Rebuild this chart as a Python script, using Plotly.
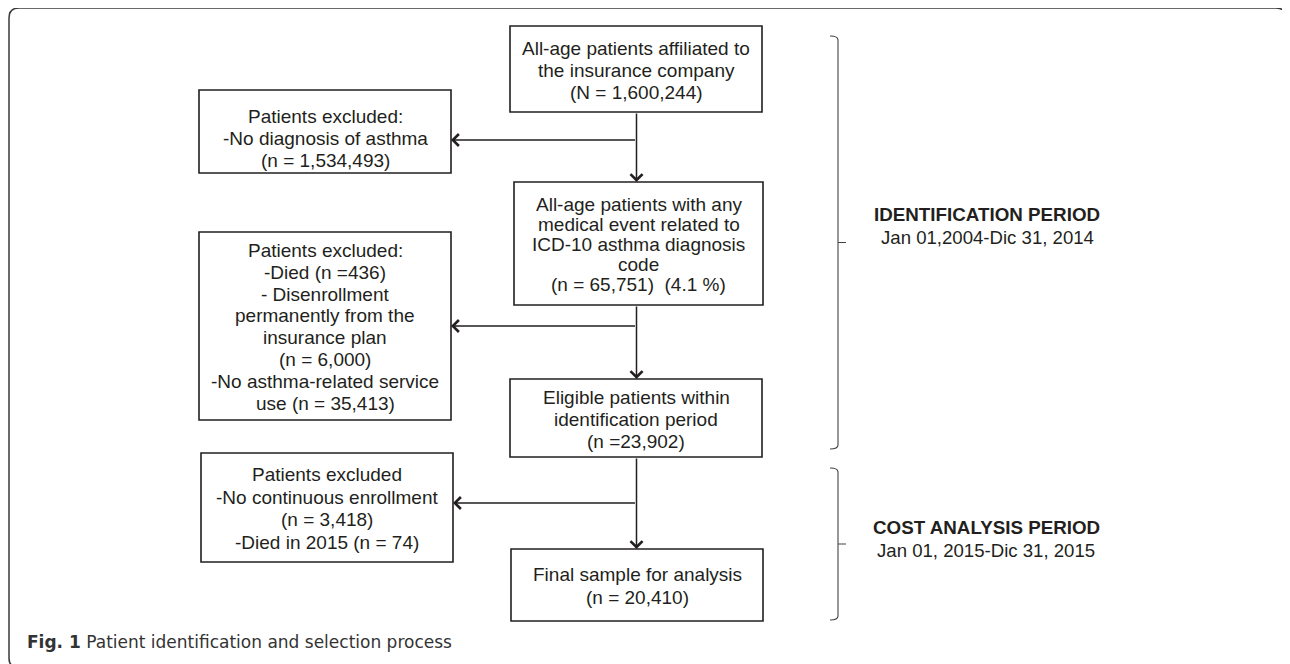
import plotly.graph_objects as go

W, H = 1290, 664
OFF = 8  # page body margin compensation

# ---------------- data: flow-chart texts ----------------
main_steps = [
    ["All-age patients affiliated to", "the insurance company", "(N = 1,600,244)"],
    ["All-age patients with any", "medical event related to", "ICD-10 asthma diagnosis",
     "code", "(n = 65,751)\u00a0 (4.1 %)"],
    ["Eligible patients within", "identification period", "(n =23,902)"],
    ["Final sample for analysis", "(n = 20,410)"],
]
exclusions = [
    ["Patients excluded:", "-No diagnosis of asthma", "(n = 1,534,493)"],
    ["Patients excluded:", "-Died (n =436)", "- Disenrollment", "permanently from the",
     "insurance plan", "(n = 6,000)", "-No asthma-related service", "use (n = 35,413)"],
    ["Patients excluded", "-No continuous enrollment", "(n = 3,418)", "-Died in 2015 (n = 74)"],
]
period_titles = ["IDENTIFICATION PERIOD", "COST ANALYSIS PERIOD"]
period_dates = ["Jan 01,2004-Dic 31, 2014", "Jan 01, 2015-Dic 31, 2015"]
caption_label = "Fig. 1"
caption_text = "Patient identification and selection process"

# ---------------- layout geometry (pixels) ----------------
# x0, x1, y0, y1, first text line y, line step
main_boxes = [
    (510, 762, 26, 112, 48.5, 22.2),
    (514, 763, 182, 305, 204, 20),
    (510, 762, 379, 457, 397, 22.2),
    (511, 763, 549, 621, 574.5, 22.5),
]
excl_boxes = [
    (199, 451, 90, 173, 116, 22),
    (199, 451, 232, 420, 250.5, 21.8),
    (201, 453, 453, 562, 474.5, 22.5),
]
branch_y = [140, 326, 503]
spine_x = 636.5
# brackets: x, top, bottom
brackets = [(838, 36, 449), (838, 468, 620)]
period_pos = [(987, 214, 237), (986, 527, 550)]

INK = "#231f20"
FONT = "Liberation Sans, Arial, Helvetica, sans-serif"

fig = go.Figure()
shapes = []
annotations = []

# outer rounded frame
r = 10
x0f, y0f, x1f, y1f = 9, 8, 1286, 668
frame_path = (f"M{x0f+r},{y0f} L{x1f-r},{y0f} Q{x1f},{y0f} {x1f},{y0f+r} "
              f"L{x1f},{y1f-r} Q{x1f},{y1f} {x1f-r},{y1f} L{x0f+r},{y1f} "
              f"Q{x0f},{y1f} {x0f},{y1f-r} L{x0f},{y0f+r} Q{x0f},{y0f} {x0f+r},{y0f} Z")
shapes.append(dict(type="path", path=frame_path, xref="x", yref="y",
                   line=dict(color="#3a3a3a", width=1.5), fillcolor="rgba(0,0,0,0)", layer="below"))


def add_box(box, lines):
    bx0, bx1, by0, by1, fy, step = box
    shapes.append(dict(type="rect", x0=bx0, x1=bx1, y0=by0, y1=by1, xref="x", yref="y",
                       line=dict(color=INK, width=1.6), fillcolor="rgba(0,0,0,0)"))
    cx = (bx0 + bx1) / 2
    for i, t in enumerate(lines):
        annotations.append(dict(x=cx, y=fy + i * step, xref="x", yref="y", text=t,
                                showarrow=False, xanchor="center", yanchor="middle",
                                font=dict(family=FONT, size=19, color=INK)))


for box, lines in zip(main_boxes, main_steps):
    add_box(box, lines)
for box, lines in zip(excl_boxes, exclusions):
    add_box(box, lines)

arrow_style = dict(showarrow=True, arrowhead=4, arrowsize=1.55, arrowwidth=1.5,
                   arrowcolor=INK, text="", xref="x", yref="y", axref="x", ayref="y",
                   standoff=0, startstandoff=0)

# vertical spine arrows
for i in range(len(main_boxes) - 1):
    annotations.append(dict(x=spine_x, y=main_boxes[i + 1][2], ax=spine_x, ay=main_boxes[i][3],
                            **arrow_style))
# horizontal exclusion arrows
for i, by in enumerate(branch_y):
    annotations.append(dict(x=excl_boxes[i][1], y=by, ax=spine_x, ay=by, **arrow_style))

# brackets
for bx, bt, bb in brackets:
    mid = (bt + bb) / 2
    p = (f"M{bx-8},{bt} Q{bx},{bt} {bx},{bt+4} L{bx},{bb-4} Q{bx},{bb} {bx-8},{bb} "
         f"M{bx},{mid} L{bx+8},{mid}")
    shapes.append(dict(type="path", path=p, xref="x", yref="y",
                       line=dict(color="#444444", width=1.1)))

# period labels
for (px, ty, dy), title, dates in zip(period_pos, period_titles, period_dates):
    annotations.append(dict(x=px, y=ty, xref="x", yref="y", text=f"<b>{title}</b>",
                            showarrow=False, xanchor="center", yanchor="middle",
                            font=dict(family=FONT, size=18.8, color=INK)))
    annotations.append(dict(x=px, y=dy, xref="x", yref="y", text=dates,
                            showarrow=False, xanchor="center", yanchor="middle",
                            font=dict(family=FONT, size=18.6, color=INK)))

# caption
annotations.append(dict(x=25, y=642, xref="x", yref="y",
                        text=f"<b>{caption_label}</b> {caption_text}",
                        showarrow=False, xanchor="left", yanchor="middle",
                        font=dict(family="DejaVu Sans, Open Sans, sans-serif", size=17,
                                  color="#333333")))

fig.update_layout(
    width=W, height=H, margin=dict(l=0, r=0, t=0, b=0),
    paper_bgcolor="white", plot_bgcolor="white",
    xaxis=dict(range=[OFF, W + OFF], visible=False, fixedrange=True),
    yaxis=dict(range=[H + OFF, OFF], visible=False, fixedrange=True),
    shapes=shapes, annotations=annotations, showlegend=False,
)

fig.write_html("out.html")
